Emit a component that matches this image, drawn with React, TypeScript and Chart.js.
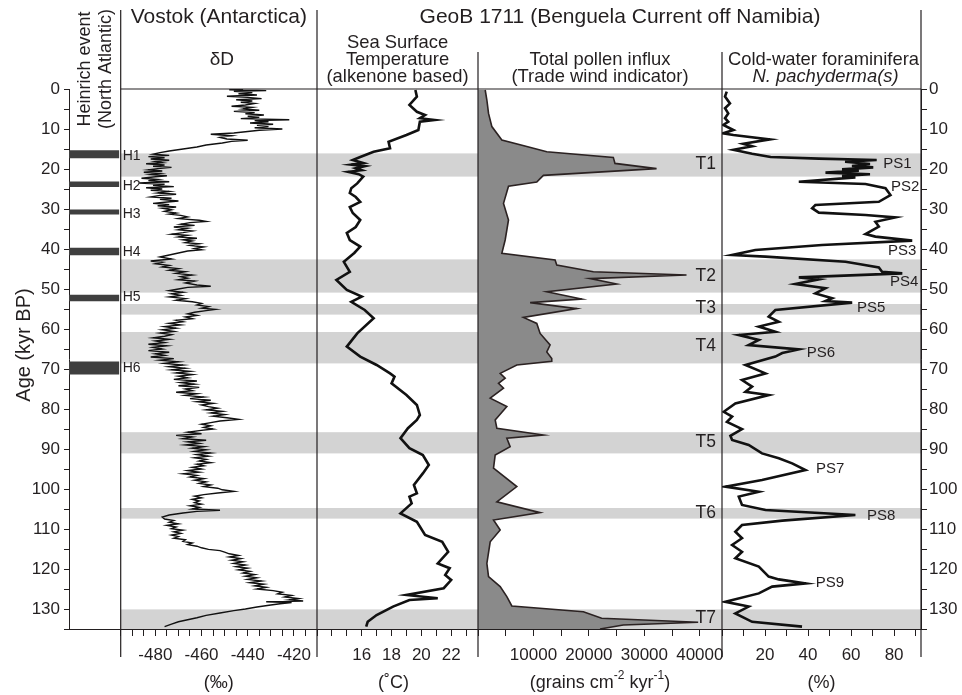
import React, { useEffect, useRef } from 'react';
import { Chart, registerables } from 'chart.js';

Chart.register(...registerables);

const FONT = '"Liberation Sans", Arial, Helvetica, sans-serif';
const INK = '#231f20';
const BAND = '#d3d3d3';

// ---- Age axis ----
const ageMin = 0;
const ageMax = 135;

// ---- Vostok deltaD (age kyr BP, permil) ----
const vostokDeltaD: [number, number][] = [
  [0.0,-442],[0.2,-448],[0.4,-432],[0.6,-446],[0.9,-438],[1.2,-444],[1.5,-436],[1.8,-449],[2.1,-440],[2.4,-434],[2.7,-445],[3.0,-438],[3.3,-443],[3.6,-437],[4.0,-441],[4.3,-447],[4.6,-438],[5.0,-442],[5.3,-435],[5.6,-446],[5.9,-437],[6.2,-441],[6.5,-433],[6.8,-440],[7.1,-435],[7.4,-443],[7.7,-422],[7.9,-437],[8.2,-431],[8.5,-439],[8.8,-429],[9.1,-436],[9.4,-431],[9.7,-437],[10.0,-425],[10.3,-435],
  [11.0,-446],[11.3,-456],[11.7,-447],[12.1,-452],[12.5,-449],[12.8,-440],[13.1,-447],[13.5,-451],[14.0,-458],[14.5,-462],[15.0,-468],[15.5,-474],[15.9,-478],
  [16.3,-481],[16.6,-474],[16.9,-483],[17.2,-476],[17.5,-482],[17.8,-474],[18.1,-480],[18.4,-477],[18.7,-484],[19.0,-476],[19.3,-481],[19.6,-473],[19.9,-479],[20.2,-483],[20.5,-477],[20.8,-485],[21.1,-478],[21.4,-482],[21.7,-475],[22.0,-481],
  [22.3,-486],[22.6,-479],[22.9,-483],[23.2,-474],[23.5,-487],[23.8,-476],[24.1,-481],[24.4,-472],[24.7,-484],[25.0,-477],[25.3,-482],[25.6,-474],[26.0,-479],[26.3,-471],[26.6,-478],
  [27.0,-482],[27.3,-473],[27.6,-478],[28.0,-470],[28.3,-476],[28.6,-481],[28.9,-474],[29.2,-479],[29.5,-471],[29.8,-477],[30.2,-473],[30.6,-476],[31.0,-471],[31.3,-474],[31.6,-469],
  [32.0,-466],[32.4,-470],[32.8,-461],[33.1,-458],[33.4,-465],[33.8,-469],[34.1,-463],[34.5,-472],[34.8,-466],[35.2,-470],[35.5,-464],[35.9,-468],[36.3,-473],[36.6,-466],
  [37.0,-470],[37.3,-462],[37.7,-468],[38.0,-464],[38.4,-467],[38.7,-461],[39.1,-465],[39.5,-459],[39.9,-463],[40.2,-460],[40.5,-466],
  [41.0,-470],[41.5,-474],[42.0,-478],[42.5,-473],[43.0,-482],[43.3,-477],[43.7,-480],
  [44.1,-474],[44.5,-477],[44.9,-470],[45.3,-474],[45.7,-467],[46.1,-471],[46.5,-464],[46.9,-469],[47.3,-466],[47.7,-470],[48.0,-463],[48.5,-467],[49.0,-462],[49.3,-456],[49.6,-466],
  [50.0,-470],[50.4,-474],[50.8,-468],[51.2,-473],[51.6,-469],[52.0,-474],[52.4,-467],[52.8,-471],
  [53.2,-464],[53.6,-460],[54.0,-462],[54.4,-457],[54.8,-460],[55.1,-454],[55.4,-458],
  [55.8,-463],[56.2,-466],[56.6,-462],[57.0,-467],[57.4,-464],
  [57.8,-471],[58.2,-468],[58.6,-474],[59.0,-469],[59.4,-476],[59.8,-471],[60.2,-477],[60.6,-472],[61.0,-478],[61.4,-473],[61.8,-476],
  [62.2,-481],[62.6,-474],[63.0,-480],[63.4,-476],[63.8,-483],[64.2,-475],[64.6,-481],[65.0,-477],[65.4,-483],[65.8,-474],[66.2,-480],
  [66.6,-476],[67.0,-482],[67.4,-472],[67.8,-478],[68.2,-470],[68.6,-476],[69.0,-468],[69.4,-474],[69.8,-467],[70.2,-473],[70.6,-465],[71.0,-471],[71.4,-464],[71.8,-470],
  [72.2,-466],[72.6,-472],[73.0,-462],[73.4,-469],[73.8,-463],[74.2,-470],[74.6,-461],[75.0,-467],[75.4,-464],[75.8,-471],
  [76.2,-462],[76.6,-467],[77.0,-459],[77.4,-465],[77.8,-456],[78.2,-462],[78.6,-455],[79.0,-460],[79.4,-457],
  [79.8,-453],[80.2,-458],[80.6,-451],[81.0,-456],[81.4,-450],[81.8,-455],[82.2,-449],[82.6,-444],[83.0,-452],
  [83.4,-456],[83.8,-460],[84.2,-456],[84.6,-459],[85.0,-455],[85.4,-461],
  [85.8,-466],[86.2,-460],[86.6,-471],[87.0,-464],[87.4,-468],[87.8,-458],[88.2,-466],[88.6,-461],[89.0,-467],[89.4,-459],
  [89.8,-464],[90.2,-458],[90.6,-463],[91.0,-456],[91.4,-462],[91.8,-457],[92.2,-463],[92.6,-458],[93.0,-461],[93.4,-456],[93.8,-462],[94.2,-459],[94.6,-464],[95.0,-460],
  [95.4,-466],[95.8,-461],[96.2,-468],[96.6,-462],[97.0,-465],[97.4,-459],[97.8,-463],[98.2,-458],
  [98.6,-461],[99.0,-456],[99.4,-459],[99.8,-453],[100.2,-451],[100.6,-446],[101.0,-453],
  [101.4,-459],[101.8,-463],[102.2,-460],[102.6,-464],[103.0,-461],[103.4,-463],[103.8,-460],[104.2,-465],[104.6,-461],[105.0,-464],[105.3,-452],[105.6,-462],
  [106.0,-468],[106.5,-474],[107.0,-477],
  [107.5,-476],[107.9,-472],[108.3,-474],[108.7,-470],[109.1,-475],[109.5,-471],[109.9,-473],[110.3,-468],[110.7,-472],[111.1,-469],[111.5,-473],[111.9,-470],[112.3,-472],[112.7,-467],
  [113.1,-468],[113.5,-464],[113.9,-466],[114.3,-462],[114.7,-460],[115.1,-457],[115.4,-452],
  [115.8,-450],[116.2,-448],[116.6,-444],[117.0,-448],[117.4,-443],[117.8,-447],[118.2,-442],[118.6,-446],[119.0,-441],[119.4,-445],[119.8,-440],
  [120.2,-444],[120.6,-439],[121.0,-442],[121.4,-437],[121.8,-441],[122.2,-436],[122.6,-440],[123.0,-434],[123.4,-439],[123.8,-433],[124.2,-437],[124.6,-432],[125.0,-436],
  [125.4,-429],[125.8,-425],[126.2,-427],[126.6,-421],[127.0,-424],[127.4,-418],[127.7,-422],[128.0,-416],[128.2,-432],[128.4,-421],[128.7,-426],
  [129.0,-430],[129.5,-436],[130.0,-441],[130.4,-446],
  [131.0,-452],[131.6,-458],[132.2,-462],[132.7,-466],[133.2,-470],[133.8,-473],[134.4,-476]
];

// ---- Sea surface temperature (age, deg C) ----
const sstSeries: [number, number][] = [
  [0.25,19.6],[1.9,19.7],[4.0,19.2],[5.7,19.7],[6.5,20.25],[7.3,19.9],[7.75,20.9],[8.2,19.9],[10.25,19.8],[11.5,19.0],[13.2,17.8],[14.8,17.9],[15.7,16.8],[17.0,15.9],[17.75,15.4],[18.5,16.1],[18.9,15.3],[19.3,16.2],[19.8,15.6],[20.3,16.0],[20.7,15.1],[21.3,15.8],[21.9,16.1],[23.6,15.7],[24.8,15.3],[26.0,15.2],[27.0,15.6],[28.2,15.9],[29.5,15.2],[31.0,15.4],[32.75,15.9],[34.5,15.6],[36.0,15.0],[37.75,15.2],[39.4,15.9],[41.0,15.5],[43.2,14.8],[45.7,15.2],[47.75,14.3],[50.25,15.0],[51.9,16.0],[53.2,15.3],[55.25,16.2],[57.3,16.8],[61.1,15.7],[64.4,15.0],[66.9,15.9],[69.0,17.0],[71.1,17.9],[71.9,18.2],[73.6,18.0],[76.5,19.0],[79.0,19.7],[81.5,19.9],[82.75,19.7],[84.8,19.1],[87.3,18.6],[89.8,19.2],[91.5,20.1],[94.0,20.5],[96.1,20.1],[99.0,19.5],[101.1,19.7],[101.9,19.2],[103.6,19.35],[106.1,18.6],[108.2,19.7],[111.5,20.25],[113.2,21.4],[115.7,21.8],[118.6,21.1],[119.8,21.9],[121.5,21.6],[122.75,22.0],[124.8,21.5],[126.5,19.0],[127.3,21.1],[127.75,19.2],[129.4,18.1],[131.5,17.0],[133.2,16.4],[134.4,16.3]
];

// ---- Total pollen influx (age, grains cm-2 kyr-1) ----
const pollenSeries: [number, number][] = [
  [0.25,1300],[2.75,1600],[6.1,1900],[9.4,2500],[12.75,4300],[14.4,8800],[15.7,12400],[17.1,24400],[18.6,24700],[19.9,32200],[21.6,11800],[22.4,11200],[23.25,10600],[24.3,5500],[28.6,4600],[32.75,5500],[37.75,4900],[41.1,4300],[42.75,13900],[44.0,14200],[45.7,20800],[46.5,37600],[47.4,20200],[48.75,25000],[50.7,12400],[52.5,18700],[53.4,9400],[54.9,17800],[57.1,8200],[58.6,10600],[61.1,11200],[64.0,13000],[65.75,12400],[67.4,13300],[68.1,13300],[69.0,7000],[71.1,4000],[72.3,4900],[73.6,3700],[74.8,4600],[77.3,2200],[79.4,5200],[82.75,3100],[84.8,3400],[86.5,11800],[87.3,5200],[89.4,5800],[91.5,3100],[94.8,2800],[99.4,7000],[103.2,3400],[105.9,11200],[107.75,2800],[110.25,4000],[113.2,2200],[118.6,1600],[121.9,1900],[124.4,4000],[126.9,5200],[129.25,6100],[130.7,19000],[132.3,22300],[133.3,39700],[134.0,26200],[135.0,22000]
];

// ---- Cold-water foraminifera N. pachyderma(s) (age, %) ----
const foramSeries: [number, number][] = [
  [0.67,2.2],[1.9,1.4],[3.6,3.7],[4.8,1.4],[6.1,2.9],[7.3,1.4],[8.2,2.9],[9.0,0.6],[10.25,5.3],[11.1,0.3],[11.5,5.3],[12.6,22.3],[13.7,9.9],[14.3,14.0],[15.2,5.3],[16.2,14.0],[17.0,22.6],[17.4,45.0],[17.75,71.9],[18.2,57.2],[18.75,68.8],[19.25,60.4],[19.6,70.3],[20.1,55.8],[20.4,63.6],[20.9,48.1],[21.3,68.8],[21.75,55.8],[22.1,62.0],[23.2,35.7],[23.75,66.7],[24.8,76.0],[26.5,78.3],[28.2,72.9],[29.0,43.4],[29.8,41.9],[30.9,45.0],[31.5,66.7],[32.1,80.6],[33.2,71.3],[34.4,72.9],[36.25,66.7],[36.9,71.3],[37.9,88.4],[39.0,46.5],[40.25,15.5],[41.5,4.7],[41.9,20.2],[43.2,57.4],[43.75,63.6],[44.6,72.9],[45.7,74.4],[46.1,83.8],[47.1,35.7],[47.6,45.0],[48.75,34.1],[49.8,48.1],[51.1,43.4],[52.3,51.2],[53.0,48.1],[53.4,60.5],[55.25,24.8],[56.9,21.7],[58.2,26.4],[59.4,17.1],[60.7,24.8],[61.5,7.8],[62.75,17.1],[64.0,12.4],[65.1,35.7],[66.0,28.0],[66.9,24.8],[69.0,10.9],[71.1,20.2],[72.75,9.3],[74.4,14.0],[75.7,10.9],[76.5,21.7],[78.6,6.2],[80.7,0.8],[81.9,4.7],[83.2,2.3],[85.0,9.3],[86.7,3.9],[87.75,4.7],[89.0,12.4],[91.1,18.6],[92.3,26.4],[93.6,32.6],[95.25,38.8],[97.75,18.6],[99.4,1.6],[100.7,17.1],[101.9,7.8],[104.0,9.3],[105.25,20.2],[106.5,62.0],[107.9,28.0],[109.0,9.3],[110.7,6.2],[112.3,9.3],[114.0,4.7],[115.7,9.3],[117.3,6.2],[119.4,17.1],[121.9,21.7],[122.6,26.4],[123.6,38.8],[124.4,23.3],[126.1,17.1],[128.2,1.6],[129.4,12.4],[131.1,6.2],[133.2,14.0],[134.4,37.2]
];

// ---- Heinrich events (North Atlantic) ----
const heinrichNames = ['H1', 'H2', 'H3', 'H4', 'H5', 'H6'];
const heinrichStart = [15.4, 23.2, 30.2, 39.8, 51.5, 68.2];
const heinrichEnd = [17.2, 24.4, 31.3, 41.5, 53.0, 71.3];
const heinrichLabelAge = [16.75, 24.4, 31.25, 40.9, 52.0, 69.75];

// ---- Shaded intervals T1..T7 ----
const bandNames = ['T1', 'T2', 'T3', 'T4', 'T5', 'T6', 'T7'];
const bandStart = [16.1, 42.6, 53.75, 60.75, 85.8, 104.75, 130.1];
const bandEnd = [21.9, 50.9, 56.4, 68.6, 91.1, 107.4, 135.0];
const bandLabelAge = [18.75, 46.9, 54.75, 64.4, 88.2, 106.0, 132.25];

// ---- PS labels (foraminifera peaks) ----
const psNames = ['PS1', 'PS2', 'PS3', 'PS4', 'PS5', 'PS6', 'PS7', 'PS8', 'PS9'];
const psAge = [18.75, 24.4, 40.4, 48.25, 54.7, 65.9, 95.0, 106.75, 123.5];
const psValue = [74.9, 78.5, 77.2, 78.1, 62.7, 39.4, 43.7, 67.4, 43.6];

// ---- Tick values and labels ----
const ageTickValues = [0, 5, 10, 15, 20, 25, 30, 35, 40, 45, 50, 55, 60, 65, 70, 75, 80, 85, 90, 95, 100, 105, 110, 115, 120, 125, 130, 135];
const vostokTickValues = [-495, -490, -485, -480, -475, -470, -465, -460, -455, -450, -445, -440, -435, -430, -425, -420, -415, -410];
const vostokTickLabels = [-480, -460, -440, -420];
const sstTickValues = [13, 14, 15, 16, 17, 18, 19, 20, 21, 22, 23];
const sstTickLabels = [16, 18, 20, 22];
const pollenTickValues = [0, 5000, 10000, 15000, 20000, 25000, 30000, 35000, 40000];
const pollenTickLabels = [10000, 20000, 30000, 40000];
const foramTickValues = [0, 10, 20, 30, 40, 50, 60, 70, 80, 90];
const foramTickLabels = [20, 40, 60, 80];

const toXY = (arr: [number, number][]) => arr.map(([age, v]) => ({ x: v, y: age }));

const tickFont = { family: FONT, size: 17 };

function xAxis(weight: number, stackWeight: number, min: number, max: number, values: number[], labels: number[]) {
  return {
    type: 'linear',
    position: 'bottom',
    stack: 'panels',
    stackWeight,
    weight,
    min,
    max,
    offset: false,
    afterBuildTicks: (s: any) => { s.ticks = values.map((v) => ({ value: v })); },
    ticks: {
      autoSkip: false,
      maxRotation: 0,
      minRotation: 0,
      padding: 9,
      color: INK,
      font: tickFont,
      callback: (v: number) => (labels.includes(v) ? String(v) : ''),
    },
    grid: { drawOnChartArea: false, drawTicks: true, tickLength: 7, color: INK, lineWidth: 1, offset: false },
    border: { display: true, color: INK, width: 1 },
    afterFit: (s: any) => { s.height = 66; },
  };
}

function yAxis(position: string, width: number) {
  return {
    type: 'linear',
    position,
    reverse: true,
    min: ageMin,
    max: ageMax,
    afterBuildTicks: (s: any) => { s.ticks = ageTickValues.map((v) => ({ value: v })); },
    ticks: {
      autoSkip: false,
      color: INK,
      font: tickFont,
      padding: position === 'left' ? 4 : 2,
      callback: (v: number) => (v % 10 === 0 ? String(v) : ''),
    },
    grid: { drawOnChartArea: false, drawTicks: true, tickLength: position === 'left' ? 5 : 6, color: INK },
    border: { display: true, color: INK, width: 1 },
    afterFit: (s: any) => { s.width = width; },
  };
}

function text(ctx: CanvasRenderingContext2D, s: string, x: number, y: number, size: number, align: CanvasTextAlign = 'center', italic = false) {
  ctx.font = `${italic ? 'italic ' : ''}${size}px ${FONT}`;
  ctx.textAlign = align;
  ctx.textBaseline = 'middle';
  ctx.fillStyle = INK;
  ctx.fillText(s, x, y);
}

const decor = {
  id: 'decor',
  beforeDatasetsDraw(chart: any) {
    const { ctx, chartArea, scales } = chart;
    const y = scales.y;
    const left = scales.xV.left;
    ctx.save();
    ctx.fillStyle = BAND;
    bandStart.forEach((s, i) => {
      const y0 = y.getPixelForValue(s);
      const y1 = y.getPixelForValue(bandEnd[i]);
      ctx.fillRect(left, y0, chartArea.right - left, y1 - y0);
    });
    ctx.restore();
  },
  afterDraw(chart: any) {
    const { ctx, chartArea, scales } = chart;
    const { y, xH, xV, xS, xP, xF } = scales;
    ctx.save();
    ctx.strokeStyle = INK;
    ctx.lineWidth = 1.2;
    const vline = (x: number, y0: number, y1: number) => {
      ctx.beginPath();
      ctx.moveTo(x, y0);
      ctx.lineTo(x, y1);
      ctx.stroke();
    };
    const below = chartArea.bottom + 28;
    vline(xV.left, 10, below);
    vline(xS.left, 10, below);
    vline(xP.left, 52, below);
    vline(xF.left, 52, below);
    vline(xF.right, 10, below);
    ctx.beginPath();
    ctx.moveTo(xV.left, chartArea.top);
    ctx.lineTo(xF.right, chartArea.top);
    ctx.stroke();

    // Headers
    text(ctx, 'Vostok (Antarctica)', (xV.left + xV.right) / 2, 17, 21);
    text(ctx, 'GeoB 1711 (Benguela Current off Namibia)', 620, 17, 21);
    text(ctx, 'δD', (xV.left + xV.right) / 2 + 3, 60, 19);
    const sc = (xS.left + xS.right) / 2;
    text(ctx, 'Sea Surface', sc, 43, 18.4);
    text(ctx, 'Temperature', sc, 60, 18.4);
    text(ctx, '(alkenone based)', sc, 77, 18.4);
    const pc = (xP.left + xP.right) / 2;
    text(ctx, 'Total pollen influx', pc, 60, 18.4);
    text(ctx, '(Trade wind indicator)', pc, 77, 18.4);
    const fc = (xF.left + xF.right) / 2;
    text(ctx, 'Cold-water foraminifera', fc + 2, 60, 18.4);
    text(ctx, 'N. pachyderma(s)', fc + 4, 77, 18.4, 'center', true);

    // Heinrich header (rotated)
    const hc = (xH.left + xH.right) / 2;
    ctx.save();
    ctx.translate(hc - 10, 69);
    ctx.rotate(-Math.PI / 2);
    text(ctx, 'Heinrich event', 0, 0, 18);
    ctx.restore();
    ctx.save();
    ctx.translate(hc + 11, 69);
    ctx.rotate(-Math.PI / 2);
    text(ctx, '(North Atlantic)', 0, 0, 18);
    ctx.restore();

    // Age axis title
    ctx.save();
    ctx.translate(24, 345);
    ctx.rotate(-Math.PI / 2);
    text(ctx, 'Age (kyr BP)', 0, 0, 20);
    ctx.restore();

    // Heinrich labels
    heinrichNames.forEach((n, i) => {
      text(ctx, n, xV.left + 2, y.getPixelForValue(heinrichLabelAge[i]), 14, 'left');
    });
    // T labels
    bandNames.forEach((n, i) => {
      text(ctx, n, xP.getPixelForValue(42900), y.getPixelForValue(bandLabelAge[i]), 17.5, 'right');
    });
    // PS labels
    psNames.forEach((n, i) => {
      text(ctx, n, xF.getPixelForValue(psValue[i]), y.getPixelForValue(psAge[i]), 15, 'left');
    });

    // Units
    const uy = 683;
    text(ctx, '(‰)', (xV.left + xV.right) / 2, uy, 18);
    text(ctx, '(˚C)', sc - 4, uy, 18);
    text(ctx, '(%)', fc, uy, 18);
    const parts: [string, boolean][] = [['(grains cm', false], ['-2', true], [' kyr', false], ['-1', true], [')', false]];
    let total = 0;
    const widths = parts.map(([s, sup]) => {
      ctx.font = `${sup ? 12 : 18}px ${FONT}`;
      const w = ctx.measureText(s).width;
      total += w;
      return w;
    });
    let x = pc - total / 2;
    parts.forEach(([s, sup], i) => {
      text(ctx, s, x, sup ? uy - 7 : uy, sup ? 12 : 18, 'left');
      x += widths[i];
    });
    ctx.restore();
  },
};

export default function App() {
  const ref = useRef<HTMLCanvasElement>(null);
  useEffect(() => {
    Chart.defaults.font.family = FONT;
    Chart.defaults.color = INK;
    const chart = new Chart(ref.current as HTMLCanvasElement, {
      type: 'line',
      data: {
        datasets: [
          {
            type: 'line',
            label: 'Vostok dD',
            indexAxis: 'y',
            xAxisID: 'xV',
            yAxisID: 'y',
            data: toXY(vostokDeltaD),
            borderColor: '#111111',
            borderWidth: 1.4,
            pointRadius: 0,
            tension: 0,
            fill: false,
          },
          {
            type: 'line',
            label: 'SST',
            indexAxis: 'y',
            xAxisID: 'xS',
            yAxisID: 'y',
            data: toXY(sstSeries),
            borderColor: '#111111',
            borderWidth: 2.6,
            pointRadius: 0,
            tension: 0,
            fill: false,
          },
          {
            type: 'line',
            label: 'Pollen',
            indexAxis: 'y',
            xAxisID: 'xP',
            yAxisID: 'y',
            data: toXY(pollenSeries),
            borderColor: '#2b2222',
            borderWidth: 1.6,
            backgroundColor: '#8a8a8a',
            pointRadius: 0,
            tension: 0,
            fill: { value: 0 },
          },
          {
            type: 'line',
            label: 'Foraminifera',
            indexAxis: 'y',
            xAxisID: 'xF',
            yAxisID: 'y',
            data: toXY(foramSeries),
            borderColor: '#111111',
            borderWidth: 2.6,
            pointRadius: 0,
            tension: 0,
            fill: false,
          },
          {
            type: 'bar',
            label: 'Heinrich',
            indexAxis: 'x',
            xAxisID: 'xH',
            yAxisID: 'y',
            data: heinrichStart.map((s, i) => ({ x: 0.48, y: [s, heinrichEnd[i]] })),
            backgroundColor: '#3f3f3f',
            borderWidth: 0,
            barThickness: 50,
            grouped: false,
          },
        ] as any,
      },
      options: {
        animation: false,
        responsive: false,
        devicePixelRatio: 1,
        events: [],
        layout: { padding: { top: 89, left: 0, right: 0, bottom: 0 } },
        plugins: { legend: { display: false }, tooltip: { enabled: false }, title: { display: false } },
        scales: {
          y: yAxis('left', 69),
          yR: yAxis('right', 41),
          xH: {
            type: 'linear',
            position: 'bottom',
            stack: 'panels',
            stackWeight: 51.7,
            weight: 0,
            min: 0,
            max: 1,
            offset: false,
            ticks: { display: false },
            grid: { display: false, offset: false },
            border: { display: true, color: INK, width: 1 },
            afterFit: (s: any) => { s.height = 66; },
          },
          xV: xAxis(1, 196.3, -495, -410, vostokTickValues, vostokTickLabels),
          xS: xAxis(2, 161, 13, 23.8, sstTickValues, sstTickLabels),
          xP: xAxis(3, 244, 0, 44000, pollenTickValues, pollenTickLabels),
          xF: xAxis(4, 199, 0, 92.5, foramTickValues, foramTickLabels),
        } as any,
      },
      plugins: [decor],
    } as any);
    return () => chart.destroy();
  }, []);
  return (
    <div style={{ position: 'fixed', left: 0, top: 0, width: 962, height: 695, background: '#ffffff' }}>
      <canvas ref={ref} width={962} height={695} style={{ display: 'block', width: 962, height: 695 }} />
    </div>
  );
}
